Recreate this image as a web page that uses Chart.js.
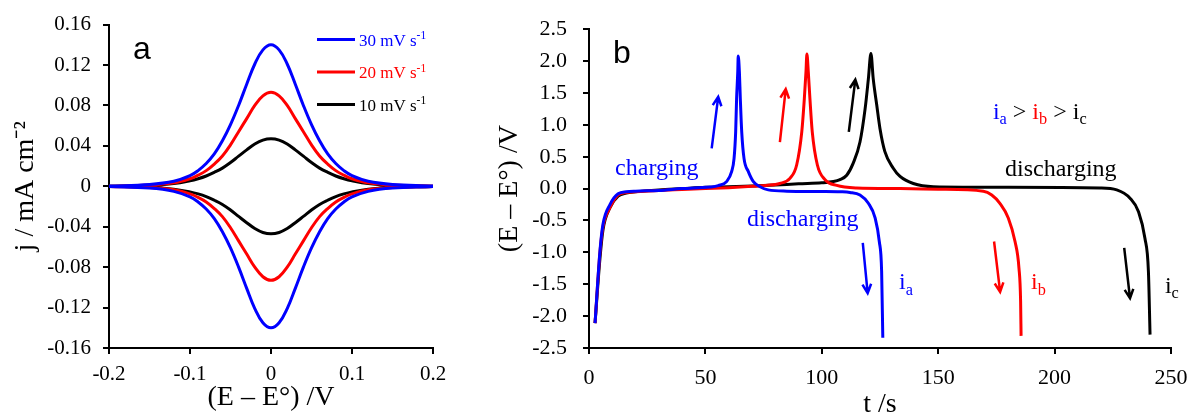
<!DOCTYPE html>
<html>
<head>
<meta charset="utf-8">
<script src="https://cdn.jsdelivr.net/npm/chart.js@4"></script>
<style>
body{margin:0;background:#fff;}
#cvChart{position:absolute;left:0;top:0;}
#gcdChart{position:absolute;left:470px;top:0;}
</style>
</head>
<body>
<canvas id="cvChart" width="470" height="419"></canvas>
<canvas id="gcdChart" width="729" height="419"></canvas>
<script>
// ---- panel a : CV at 3 scan rates ----
const cvE = [-0.2,-0.15,-0.12,-0.1,-0.09,-0.08,-0.07,-0.06,-0.05,-0.04,-0.03,-0.02,-0.01,0,
             0.01,0.02,0.03,0.04,0.05,0.06,0.07,0.08,0.09,0.1,0.12,0.15,0.2];
const j30Up   = [0.0002,0.0018,0.005,0.0105,0.0155,0.0225,0.032,0.045,0.061,0.08,0.101,0.121,0.135,0.140,
                 0.135,0.121,0.101,0.08,0.061,0.045,0.032,0.0225,0.0155,0.0105,0.005,0.0018,0.0002];
const j30Down = [-0.0002,-0.0018,-0.005,-0.0105,-0.0155,-0.0225,-0.032,-0.045,-0.061,-0.08,-0.101,-0.121,-0.135,-0.140,
                 -0.135,-0.121,-0.101,-0.08,-0.061,-0.045,-0.032,-0.0225,-0.0155,-0.0105,-0.005,-0.0018,-0.0002];
const j20Up   = [0.0001,0.0012,0.0035,0.0075,0.011,0.0155,0.022,0.030,0.041,0.054,0.067,0.080,0.0895,0.093,
                 0.0895,0.080,0.067,0.054,0.041,0.030,0.022,0.0155,0.011,0.0075,0.0035,0.0012,0.0001];
const j20Down = [-0.0001,-0.0012,-0.0035,-0.0075,-0.011,-0.0155,-0.022,-0.030,-0.041,-0.054,-0.067,-0.080,-0.0895,-0.093,
                 -0.0895,-0.080,-0.067,-0.054,-0.041,-0.030,-0.022,-0.0155,-0.011,-0.0075,-0.0035,-0.0012,-0.0001];
const j10Up   = [0.0001,0.0009,0.0028,0.0055,0.0075,0.0102,0.0138,0.018,0.0235,0.0298,0.036,0.0418,0.0457,0.047,
                 0.0457,0.0418,0.036,0.0298,0.0235,0.018,0.0138,0.0102,0.0075,0.0055,0.0028,0.0009,0.0001];
const j10Down = [-0.0001,-0.0009,-0.0028,-0.0055,-0.0075,-0.0102,-0.0138,-0.018,-0.0235,-0.0298,-0.036,-0.0418,-0.0457,-0.047,
                 -0.0457,-0.0418,-0.036,-0.0298,-0.0235,-0.018,-0.0138,-0.0102,-0.0075,-0.0055,-0.0028,-0.0009,-0.0001];
const cvRates  = ['30','20','10'];
const cvColors = ['#0000ff','#ff0000','#000000'];

// ---- panel b : charge / discharge ----
const blueT = [2.6,4.7,6,9,12.5,16,20,30,40,47,52,55.5,59.1,61.3,62.3,63.0,63.4,63.9,64.1,64.6,65.0,65.6,66.6,68.4,70.6,73.5,77,85,100,108,112.1,116.4,120,122.9,124.7,125.7,126.2];
const blueV = [-2.11,-0.98,-0.56,-0.25,-0.08,-0.05,-0.04,-0.03,0.0,0.015,0.025,0.047,0.11,0.27,0.47,0.89,1.41,1.83,2.08,1.83,1.41,0.89,0.47,0.27,0.11,0.03,-0.02,-0.04,-0.045,-0.05,-0.06,-0.1,-0.23,-0.46,-0.83,-1.3,-2.34];
const redT  = [2.6,4.7,6,9,12.5,16,20,30,40,50,60,70,76,82.0,86.3,89.2,91.4,92.5,93.2,93.6,94.2,94.9,95.9,98.1,101.4,106.4,115,133.6,150,169.4,173,176.5,180.1,183,184.7,185.4,185.6];
const redV  = [-2.11,-1.0,-0.6,-0.3,-0.1,-0.06,-0.05,-0.03,-0.015,0.0,0.015,0.035,0.05,0.08,0.16,0.37,0.89,1.41,1.83,2.11,1.83,1.41,0.89,0.37,0.14,0.05,0.01,0.0,-0.01,-0.04,-0.1,-0.23,-0.46,-0.83,-1.25,-1.77,-2.31];
const blackT = [2.6,4.7,6,9,12.5,16,20,30,40,50,60,70,80,90,100,105,107.8,110.7,113.5,116.4,118.6,120,121.1,122.1,123.6,125,127.1,130.7,133.6,139.3,147.9,180,219.5,226.7,232.4,236,238.8,240.3,241];
const blackV = [-2.11,-1.1,-0.65,-0.3,-0.12,-0.07,-0.05,-0.02,0.0,0.02,0.03,0.04,0.055,0.075,0.09,0.11,0.14,0.21,0.4,0.73,1.25,1.72,2.12,1.72,1.31,0.94,0.58,0.32,0.19,0.08,0.03,0.02,0.01,-0.02,-0.15,-0.36,-0.78,-1.3,-2.29];

// arrows (t0,v0) -> (t1,v1)
const arrowT0 = [52.7,82.0,111.6,117.6,174.0,229.9];
const arrowV0 = [0.63,0.73,0.89,-0.85,-0.83,-0.93];
const arrowT1 = [55.5,84.5,114.4,119.7,176.6,232.4];
const arrowV1 = [1.44,1.56,1.71,-1.64,-1.62,-1.72];
const arrowColors = ['#0000ff','#ff0000','#000000','#0000ff','#ff0000','#000000'];

// text notes in data coords (left, baseline)
const noteT = [11.2,67.9,178.7,133.2,189.9,247.4,173.5];
const noteV = [0.22,-0.58,0.19,-1.58,-1.58,-1.64,1.09];
const noteParts = [
    [{t:'charging',c:'#0000ff'}],
    [{t:'discharging',c:'#0000ff'}],
    [{t:'discharging',c:'#000000'}],
    [{t:'i',c:'#0000ff'},{t:'a',c:'#0000ff',sub:true}],
    [{t:'i',c:'#ff0000'},{t:'b',c:'#ff0000',sub:true}],
    [{t:'i',c:'#000000'},{t:'c',c:'#000000',sub:true}],
    [{t:'i',c:'#0000ff'},{t:'a',c:'#0000ff',sub:true},{t:' > ',c:'#000'},
     {t:'i',c:'#ff0000'},{t:'b',c:'#ff0000',sub:true},{t:' > ',c:'#000'},
     {t:'i',c:'#000'},{t:'c',c:'#000',sub:true}]
];

const SERIF = "'Liberation Serif', 'Times New Roman', serif";
const SANS = "'Liberation Sans', Arial, sans-serif";

// text with sub / superscripts
function drawRich(ctx, x, y, parts, size){
    let cx = x;
    parts.forEach(p=>{
        let s = (p.sub||p.sup) ? size*0.68 : size;
        let dy = p.sub ? size*0.22 : p.sup ? -size*0.38 : 0;
        ctx.font = s + 'px ' + SERIF;
        ctx.fillStyle = p.c || '#000';
        ctx.textAlign = 'left';
        ctx.textBaseline = 'alphabetic';
        ctx.fillText(p.t, cx, y+dy);
        cx += ctx.measureText(p.t).width;
    });
}

function axisOpts(min, max, step, fmt, title, pad){
    return {
        type:'linear', min, max,
        ticks:{stepSize:step, color:'#000', padding:pad, font:{family:SERIF, size:21}, callback:fmt},
        grid:{drawOnChartArea:false, drawTicks:true, tickLength:6, color:'#000', lineWidth:2},
        border:{display:true, color:'#000', width:2},
        title:{display:true, text:title, color:'#000', font:{family:SERIF, size:28, lineHeight:1}, padding:{top:0,bottom:0}}
    };
}

// panel a labels + legend
const cvDecor = {
    id:'cvDecor',
    afterDraw(chart){
        const ctx = chart.ctx, a = chart.chartArea;
        ctx.save();
        ctx.font = '32px ' + SANS;
        ctx.fillStyle = '#000';
        ctx.fillText('a', a.left+24, a.top+34);
        chart.data.datasets.forEach((ds,i)=>{
            let y = a.top + 15 + i*32.5;
            ctx.strokeStyle = ds.borderColor;
            ctx.lineWidth = 3;
            ctx.beginPath();
            ctx.moveTo(a.left+208, y);
            ctx.lineTo(a.left+246, y);
            ctx.stroke();
            drawRich(ctx, a.left+250, y+6, [{t:cvRates[i]+' mV s',c:ds.borderColor},{t:'-1',c:ds.borderColor,sup:true}], 17);
        });
        ctx.restore();
    }
};

// panel b label, arrows and notes
const gcdDecor = {
    id:'gcdDecor',
    afterDraw(chart){
        const ctx = chart.ctx, a = chart.chartArea;
        const sx = chart.scales.x, sy = chart.scales.y;
        ctx.save();
        ctx.font = '32px ' + SANS;
        ctx.fillStyle = '#000';
        ctx.fillText('b', a.left+24, a.top+34);
        arrowT0.forEach((t0,i)=>{
            let x0 = sx.getPixelForValue(t0), y0 = sy.getPixelForValue(arrowV0[i]);
            let x1 = sx.getPixelForValue(arrowT1[i]), y1 = sy.getPixelForValue(arrowV1[i]);
            let ang = Math.atan2(y1-y0, x1-x0);
            ctx.strokeStyle = arrowColors[i];
            ctx.lineWidth = 2.5;
            ctx.beginPath();
            ctx.moveTo(x0,y0); ctx.lineTo(x1,y1);
            ctx.moveTo(x1-10*Math.cos(ang-0.45), y1-10*Math.sin(ang-0.45));
            ctx.lineTo(x1,y1);
            ctx.lineTo(x1-10*Math.cos(ang+0.45), y1-10*Math.sin(ang+0.45));
            ctx.stroke();
        });
        noteT.forEach((t,i)=>{
            drawRich(ctx, sx.getPixelForValue(t), sy.getPixelForValue(noteV[i]), noteParts[i], 24);
        });
        ctx.restore();
    }
};

// CV loops: forward branch then reverse branch
let cvSets = [[j30Up,j30Down],[j20Up,j20Down],[j10Up,j10Down]].map((b,i)=>({
    label: cvRates[i]+' mV s⁻¹',
    data: cvE.map((e,k)=>({x:e,y:b[0][k]})).concat(cvE.map((e,k)=>({x:e,y:b[1][k]})).reverse()),
    borderColor: cvColors[i],
    borderWidth: 3,
    pointRadius: 0,
    tension: 0.4,
    fill: false
}));

let ax = axisOpts(-0.2, 0.2, 0.1, v=>Math.abs(v)<1e-9?'0':v.toFixed(1), '(E – E°) /V', 8);
ax.afterFit = s=>{ s.height = 71; };
ax.title.padding = {top:0, bottom:7};
let ay = axisOpts(-0.16, 0.16, 0.04, v=>Math.abs(v)<1e-9?'0':v.toFixed(2), 'j / mA cm⁻²', 12);
ay.afterFit = s=>{ s.width = 109; };
ay.title.padding = {top:12, bottom:0};

new Chart(document.getElementById('cvChart').getContext('2d'),{
    type:'line',
    data:{datasets:cvSets},
    options:{
        responsive:false, animation:false,
        layout:{padding:{left:0, right:37, top:20, bottom:0}},
        plugins:{legend:{display:false}, tooltip:{enabled:false}},
        scales:{x:ax, y:ay}
    },
    plugins:[cvDecor]
});

// charge/discharge curves, blue drawn on top
let gcdSets = [[blueT,blueV,'#0000ff'],[redT,redV,'#ff0000'],[blackT,blackV,'#000000']].map(c=>({
    data: c[0].map((t,k)=>({x:t,y:c[1][k]})),
    borderColor: c[2],
    borderWidth: 3,
    pointRadius: 0,
    cubicInterpolationMode: 'monotone',
    fill: false
}));

let bx = axisOpts(0, 250, 50, v=>String(v), 't /s', 11);
bx.ticks.font.size = 22;
bx.afterFit = s=>{ s.height = 71; };
bx.title.padding = {top:0, bottom:0};
let by = axisOpts(-2.5, 2.5, 0.5, v=>v.toFixed(1), '(E – E°) /V', 16);
by.ticks.font.size = 22;
by.afterFit = s=>{ s.width = 119; };
by.title.padding = {top:26, bottom:0};

new Chart(document.getElementById('gcdChart').getContext('2d'),{
    type:'line',
    data:{datasets:gcdSets},
    options:{
        responsive:false, animation:false,
        layout:{padding:{left:0, right:28, top:28, bottom:0}},
        plugins:{legend:{display:false}, tooltip:{enabled:false}},
        scales:{x:bx, y:by}
    },
    plugins:[gcdDecor]
});
</script>
</body>
</html>
